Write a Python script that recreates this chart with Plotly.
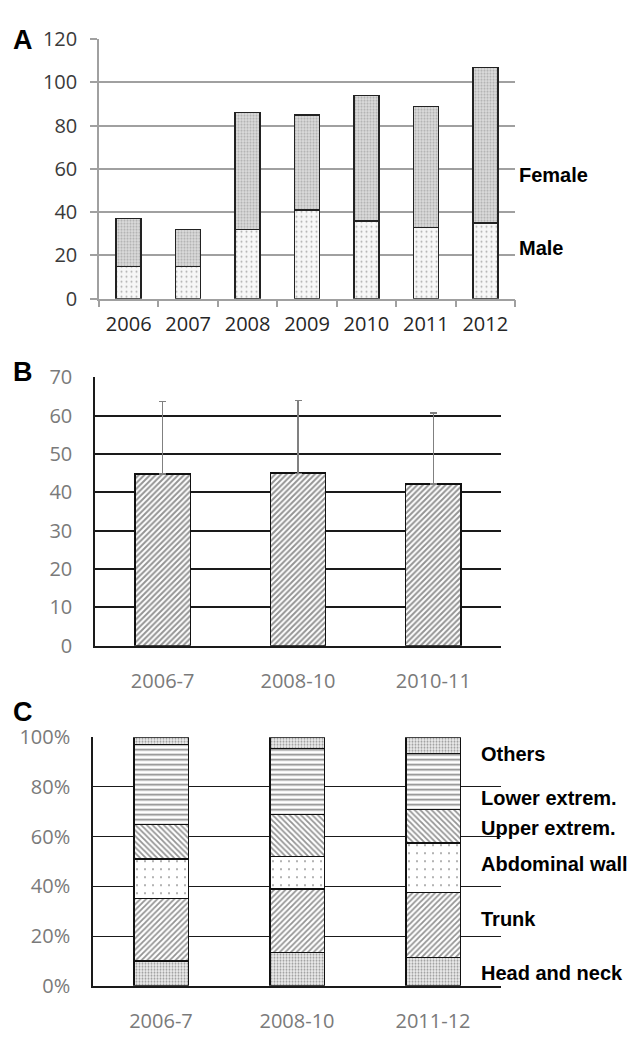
import plotly.graph_objects as go

# Panel A: cases per year by sex
years = ["2006", "2007", "2008", "2009", "2010", "2011", "2012"]
male = [15, 15, 32, 41, 36, 33, 35]
female = [22, 17, 54, 44, 58, 56, 72]

# Panel B: mean with SD per period
periods_b = ["2006-7", "2008-10", "2010-11"]
mean_b = [44.8, 45.0, 42.2]
sd_b = [18.8, 18.9, 18.5]

# Panel C: anatomical site distribution (%)
periods_c = ["2006-7", "2008-10", "2011-12"]
sites = ["Head and neck", "Trunk", "Abdominal wall", "Upper extrem.", "Lower extrem.", "Others"]
site_pct = {
    "Head and neck": [10, 13.5, 11.5],
    "Trunk": [25, 25.5, 26],
    "Abdominal wall": [16, 13, 20],
    "Upper extrem.": [14, 17, 13.5],
    "Lower extrem.": [32, 26.5, 22.5],
    "Others": [3, 4.5, 6.5],
}

W, H = 628, 1040


def xd(a, b):
    return [a / W, b / W]


def yd(top, bottom):
    return [1 - bottom / H, 1 - top / H]


TICKFONT = "Open Sans, Noto Sans, sans-serif"
BOLD = "Liberation Sans, Arial, sans-serif"

fig = go.Figure()

# ---- Panel A ----
fig.add_bar(
    x=years, y=male, xaxis="x", yaxis="y", width=0.42,
    marker=dict(
        color="white",
        line=dict(color="#222", width=1.5),
        pattern=dict(shape=".", size=5, solidity=0.12, fgcolor="#666", bgcolor="#f7f7f7"),
    ),
    showlegend=False,
)
fig.add_bar(
    x=years, y=female, xaxis="x", yaxis="y", width=0.42,
    marker=dict(
        color="white",
        line=dict(color="#222", width=1.5),
        pattern=dict(shape=".", size=3, solidity=0.4, fgcolor="#808080", bgcolor="#dcdcdc"),
    ),
    showlegend=False,
)

# ---- Panel B ----
fig.add_bar(
    x=periods_b, y=mean_b, xaxis="x2", yaxis="y2", width=0.41,
    marker=dict(
        color="white",
        line=dict(color="#111", width=1.5),
        pattern=dict(shape="/", size=4, solidity=0.5, fgcolor="#2a2a2a", bgcolor="white"),
    ),
    error_y=dict(type="data", array=sd_b, arrayminus=[0] * len(sd_b), symmetric=False,
                 color="#808080", thickness=1.3, width=3.5),
    showlegend=False,
)

# ---- Panel C ----
site_patterns = {
    "Head and neck": dict(shape=".", size=3, solidity=0.35, fgcolor="#444", bgcolor="#ececec"),
    "Trunk": dict(shape="/", size=4, solidity=0.45, fgcolor="#2a2a2a", bgcolor="white"),
    "Abdominal wall": dict(shape=".", size=8, solidity=0.05, fgcolor="#333", bgcolor="white"),
    "Upper extrem.": dict(shape="\\", size=4, solidity=0.45, fgcolor="#2a2a2a", bgcolor="white"),
    "Lower extrem.": dict(shape="-", size=5, solidity=0.35, fgcolor="#1a1a1a", bgcolor="white"),
    "Others": dict(shape=".", size=3, solidity=0.35, fgcolor="#444", bgcolor="#ececec"),
}
for s in sites:
    fig.add_bar(
        x=periods_c, y=site_pct[s], xaxis="x3", yaxis="y3", width=0.40,
        marker=dict(color="white", line=dict(color="#111", width=1.4),
                    pattern=site_patterns[s]),
        showlegend=False,
    )

fig.update_layout(
    width=W, height=H,
    margin=dict(l=0, r=0, t=0, b=0),
    paper_bgcolor="white", plot_bgcolor="white",
    barmode="stack",
    xaxis=dict(domain=xd(99, 515), anchor="y", type="category",
               showline=True, linecolor="#a0a0a0", linewidth=1.5,
               ticks="outside", tickson="boundaries", ticklen=7, tickcolor="#a0a0a0", tickwidth=1.5,
               tickfont=dict(family=TICKFONT, size=20, color="#262626"), ticklabelstandoff=7,
               showgrid=False),
    yaxis=dict(domain=yd(25.9, 292.3), anchor="x", range=[0, 120], dtick=20,
               showline=True, linecolor="#a0a0a0", linewidth=1.5,
               ticks="outside", ticklen=7, tickcolor="#a0a0a0", tickwidth=1.5,
               showgrid=True, gridcolor="#a0a0a0", gridwidth=1.5, zeroline=False,
               tickfont=dict(family=TICKFONT, size=20, color="#3a3a3a"), ticklabelstandoff=9),
    xaxis2=dict(domain=xd(95, 501), anchor="y2", type="category",
                showline=True, linecolor="#1a1a1a", linewidth=1.5, ticks="",
                tickfont=dict(family=TICKFONT, size=20, color="#7a7a7a"), ticklabelstandoff=17,
                showgrid=False),
    yaxis2=dict(domain=yd(373, 648.5), anchor="x2", range=[0, 70], dtick=10,
                showline=True, linecolor="#1a1a1a", linewidth=1.5, ticks="",
                showgrid=True, gridcolor="#1a1a1a", gridwidth=1.5, zeroline=False,
                tickfont=dict(family=TICKFONT, size=20, color="#7a7a7a"), ticklabelstandoff=17),
    xaxis3=dict(domain=xd(93, 501), anchor="y3", type="category",
                showline=True, linecolor="#1a1a1a", linewidth=1.5, ticks="",
                tickfont=dict(family=TICKFONT, size=20, color="#7a7a7a"), ticklabelstandoff=16,
                showgrid=False),
    yaxis3=dict(domain=yd(742.5, 997.7), anchor="x3", range=[0, 100], dtick=20, ticksuffix="%",
                showline=True, linecolor="#1a1a1a", linewidth=1.5, ticks="",
                showgrid=True, gridcolor="#1a1a1a", gridwidth=1.3, zeroline=False,
                tickfont=dict(family=TICKFONT, size=20, color="#7a7a7a"), ticklabelstandoff=17),
)

# Panel letters
for letter, ycen in [("A", 27), ("B", 368), ("C", 717)]:
    fig.add_annotation(text=letter, x=11 / W, y=1 - ycen / H, xref="paper", yref="paper",
                       xanchor="left", yanchor="middle", showarrow=False,
                       font=dict(family=BOLD, size=27, color="black", weight="bold"))

# Series labels in panel A
for txt, ycen in [("Female", 165), ("Male", 240)]:
    fig.add_annotation(text=txt, x=517 / W, y=1 - ycen / H, xref="paper", yref="paper",
                       xanchor="left", yanchor="middle", showarrow=False,
                       font=dict(family=BOLD, size=20, color="black", weight="bold"))

# Site labels in panel C
site_label_y = {"Others": 760, "Lower extrem.": 805, "Upper extrem.": 836,
                "Abdominal wall": 873, "Trunk": 929, "Head and neck": 985}
for s in sites:
    fig.add_annotation(text=s, x=479 / W, y=1 - site_label_y[s] / H, xref="paper", yref="paper",
                       xanchor="left", yanchor="middle", showarrow=False,
                       font=dict(family=BOLD, size=20, color="black", weight="bold"))

fig.write_html("out.html", config={"displayModeBar": False})
